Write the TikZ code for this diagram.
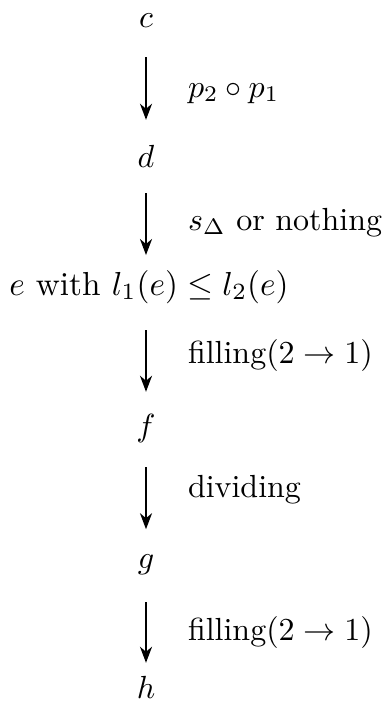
\documentclass[tikz,border=0pt]{standalone}
\usetikzlibrary{arrows.meta}
\begin{document}
\begin{tikzpicture}[x=1pt,y=-1pt,
  obj/.style={inner sep=0pt, outer sep=0pt, scale=3.2, anchor=base},
  lbl/.style={inner sep=0pt, outer sep=0pt, scale=3.2, anchor=base west},
  arr/.style={line width=2.2pt, -{Stealth[length=16pt,width=12pt,inset=5pt]}}]
\useasboundingbox (0,0) rectangle (386,713);
\node[obj] (c) at (146,27) {$c$};
\node[obj] (d) at (146,167) {$d$};
\node[obj, scale=1.04] (e) at (149,295) {$e$ with $l_1(e)\le l_2(e)$};
\node[obj] (f) at (146,436) {$f$};
\node[obj] (g) at (146,568) {$g$};
\node[obj] (h) at (146,698) {$h$};
\node[lbl] (l1) at (188,97) {$p_2\circ p_1$};
\node[lbl] (l2) at (188,230) {$s_\Delta$ or nothing};
\node[lbl] (l3) at (188,363) {filling$(2\to1)$};
\node[lbl] (l4) at (188,497) {dividing};
\node[lbl] (l5) at (188,640) {filling$(2\to1)$};
\draw[arr, shorten <=30pt, shorten >=25pt] (c.south) -- (c.south |- d.north);
\draw[arr, shorten <=26pt, shorten >=15pt] (d.south) -- (d.south |- e.north);
\draw[arr, shorten <=27pt, shorten >=22pt] (f.north |- e.south) -- (f.north);
\draw[arr, shorten <=25pt, shorten >=25pt] (f.south) -- (g.north);
\draw[arr, shorten <=28pt, shorten >=13pt] (g.south) -- (h.north);
\end{tikzpicture}
\end{document}
